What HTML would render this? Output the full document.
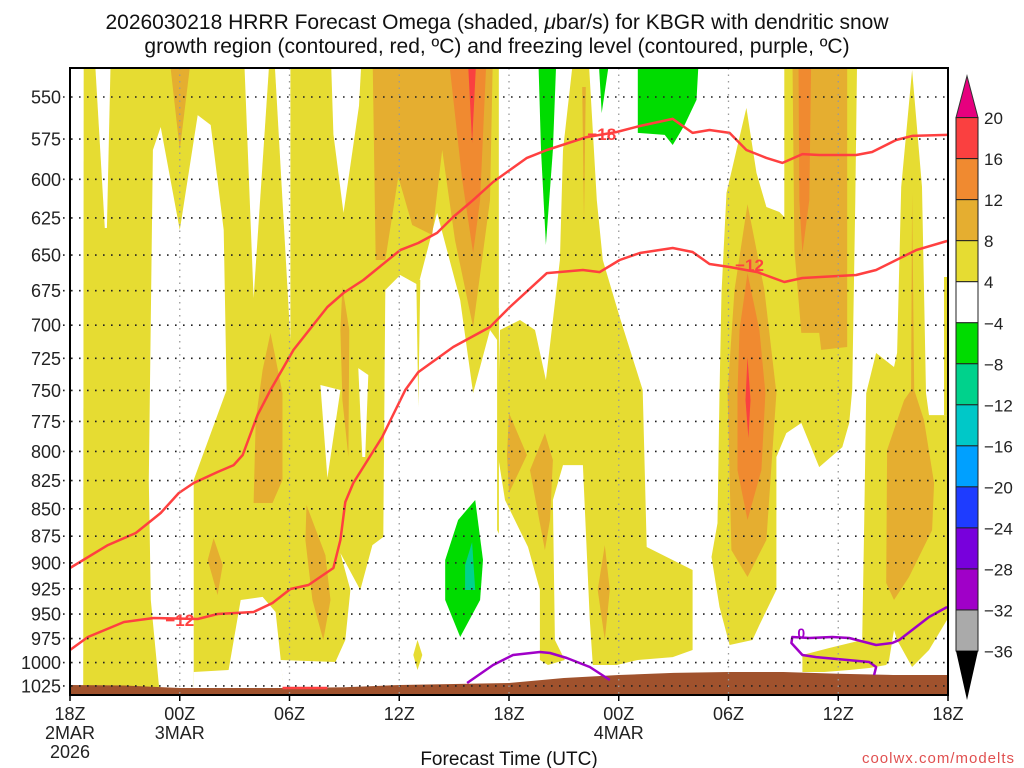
<!DOCTYPE html>
<html><head><meta charset="utf-8">
<style>
html,body{margin:0;padding:0;background:#fff;}
svg{display:block;font-family:"Liberation Sans","DejaVu Sans",sans-serif;}
</style></head>
<body>
<svg id="chart" width="1024" height="768" viewBox="0 0 1024 768" xmlns="http://www.w3.org/2000/svg">
<g font-size="21" fill="#111" text-anchor="middle">
<text x="497" y="29">2026030218 HRRR Forecast Omega (shaded, <tspan font-style="italic">μ</tspan>bar/s) for KBGR with dendritic snow</text>
<text x="497" y="53">growth region (contoured, red, ºC) and freezing level (contoured, purple, ºC)</text>
</g>
<defs><clipPath id="plotclip"><rect x="70" y="68" width="878" height="627"/></clipPath></defs>
<g id="plot" clip-path="url(#plotclip)"></g>
<g id="overlay"></g>
<g id="cbar"></g>
<text x="509" y="765" font-size="19" text-anchor="middle" fill="#111">Forecast Time (UTC)</text>
<text x="1015" y="763" font-size="15" text-anchor="end" fill="#e05050" letter-spacing="1">coolwx.com/modelts</text>
</svg>
<script>
// ---- data (hours since 18Z 2 Mar, pressure hPa) ----
const pressureTicks = [550,575,600,625,650,675,700,725,750,775,800,825,850,875,900,925,950,975,1000,1025];
const timeTicks = [0,6,12,18,24,30,36,42,48];
const timeLabels = ["18Z","00Z","06Z","12Z","18Z","00Z","06Z","12Z","18Z"];
const dateLabels = ["2MAR","3MAR","","","","4MAR","","",""];
const yearLabels = ["2026","","","","","","","",""];
const cbarLevels = [20,16,12,8,4,-4,-8,-12,-16,-20,-24,-28,-32,-36];
const cbarColors = ["#fa4040","#f08a30","#e5ae30","#e6dc32","#ffffff","#00dc00","#00d28c","#00c8c8","#00a0ff","#1e3cff","#7800dc","#a000c8","#aaaaaa"];

// surface (terrain) pressure
const terrainHours = [0,3,6,9,12,15,18,21,24,27,30,33,36,39,42,45,48];
const terrainPres = [1024,1024.5,1027.3,1027.3,1027.3,1026.5,1024,1022.9,1021.9,1016.5,1013.2,1011,1010,1010,1012,1013.2,1013.2];

// -12/-18 C contours (red)
const redLowerHours = [0,0.98,2.95,4.58,6.98,8.07,10.04,11.07,12.05,13.04,14.4,14.78,15.05,15.49,17.07,18.33,19.04,20.95,22.96,24.05,26.07,28.04,28.96,30.05,31.15,32.95,34.04,34.96,36.06,37.58,39.05,40.04,42.98,44.07,46.26,47.95];
const redLowerPres = [986.8,973.3,958.0,954.0,955.0,950.0,948.0,939.0,925.2,921.3,904.9,878.5,843.9,827.1,787.9,749.7,735.6,716.4,701.4,686.7,662.5,660.4,661.8,653.4,648.6,645.2,647.9,656.2,658.3,661.8,668.8,666.0,663.9,660.4,646.6,640.4];
const redUpperHours = [0,2.07,3.6,4.96,5.95,6.76,8.07,8.95,9.44,10.25,10.96,12.22,14.07,14.95,16.04,18.05,19.04,20.07,20.95,22.04,23.13,24.05,24.98,26.07,28.25,29.89,31.15,32.95,34.04,34.96,36.06,36.98,38.07,38.95,40.04,40.96,42.98,43.85,45.16,46.04,47.95];
const redUpperPres = [904.9,883.2,872.0,853.8,835.9,827.1,817.6,811.6,803.0,769.8,749.7,718.6,686.7,676.6,667.4,646.6,641.8,635.0,624.4,613.3,601.7,594.1,586.6,581.7,573.8,570.7,567.1,562.9,571.3,569.5,571.3,581.7,586.6,589.7,584.2,584.8,584.8,582.9,575.6,573.1,572.5];
const redShortHours = [11.62,14.07];
const redShortPres = [1027.3,1027.3];
const redLabelText = ["-12","-18","-12"];
const redLabelHours = [6.0,29.07,37.15];
const redLabelPres = [956,572,656.9];

// freezing level (purple)
const purpleAHours = [21.71,23.13,24.22,25.69,26.24,27.16,28.42,29.51];
const purpleAPres = [1021.9,1002.6,992.0,988.9,989.9,995.2,1004.7,1018.6];
const purpleBHours = [47.95,46.96,45.33,44.95,44.07,42.6,41.67,40.42,39.49,39.44,40.04,40.8,43.69,44.07,43.96];
const purpleBPres = [943.0,953.0,976.4,979.5,981.6,974.4,973.3,974.4,973.3,979.5,992.0,994.2,999.4,1004.7,1013.2];

// shaded omega regions: [hour, pressure] vertex lists per level
const yellowBase = [[0,520],[23.45,520],[23.45,1045],[0,1045]];
const whiteHoles = [
 [[0,520],[0.75,520],[0.72,1045],[0,1045]],
 [[1.31,520],[2.24,520],[2.02,631.7],[1.9,631.7]],
 [[4.53,581.7],[4.96,567.7],[6.0,633.0],[6.98,560.6],[7.69,566.5],[8.4,633.0],[8.56,749.7],[6.76,824.5],[6.76,1045],[4.96,1045],[4.42,936.0],[4.31,824.5]],
 [[6.76,1045],[6.76,1010.0],[8.67,1007.9],[9.33,936.0],[10.53,933.0],[11.24,948.0],[11.78,1045]],
 [[9.49,520],[10.96,520],[10.04,680.2]],
 [[11.13,520],[12.05,520],[12.05,711.1]],
 [[14.24,520],[15.98,520],[15.8,555.2],[14.95,621.7],[14.4,572.0]],
 [[17.24,674.5],[18.05,663.9],[19.04,670.9],[20.07,621.7],[21.33,681.7],[22.04,752.1],[22.96,703.6],[23.35,711.1],[23.35,869.3],[24.16,897.3],[24.87,1045],[11.78,1045],[11.51,997.3],[14.51,999.4],[15.05,976.4],[15.33,926.2],[14.78,890.7],[15.87,926.2],[16.53,883.2],[17.13,875.7]],
 [[13.69,745.7],[14.78,749.7],[14.07,822.8]],
 [[15.76,732.5],[16.31,737.9],[16.14,804.7],[15.98,804.7]],
 [[23.45,520],[23.45,687.4],[24.6,696.2],[25.42,703.6],[26.02,741.8],[26.78,653.4],[26.95,581.7],[27.6,520]]
];
const yellowRegions = [
 [[18.93,667.4],[19.15,667.4],[19.04,763.3]],
 [[19.0,976.4],[19.26,992.0],[19.0,1007.9],[18.77,992.0]],
 [[27.6,520],[28.31,520],[28.8,613.3],[29.13,653.4],[30.05,694.0],[31.31,749.7],[31.53,885.0],[34.04,906.8],[34.04,986.8],[32.95,994.2],[31.04,997.3],[29.89,1002.6],[28.58,1002.6],[28.42,956.0],[28.04,811.6],[26.95,811.6],[26.4,842.1],[26.51,976.4],[27.05,997.3],[26.13,1002.6],[25.69,997.3],[25.69,926.2],[25.04,885.0],[23.78,842.1],[23.35,798.8],[23.51,703.6],[24.6,696.2],[25.42,703.6],[26.02,741.8],[26.78,653.4],[26.95,581.7]],
 [[36.98,556.4],[37.53,596.0],[38.07,617.8],[38.78,621.1],[39.05,624.4],[39.05,520],[43.04,520],[42.93,613.3],[42.76,749.7],[42.6,776.3],[42.22,796.3],[40.96,813.3],[39.98,776.3],[39.16,784.6],[38.62,804.7],[38.62,926.2],[37.69,961.1],[37.31,976.4],[36.06,981.6],[35.51,943.0],[35.07,894.4],[35.4,862.9],[35.51,752.1],[35.62,676.6],[35.89,608.7],[36.44,581.7]],
 [[46.04,534.5],[46.58,604.9],[46.8,752.1],[46.96,769.8],[48.5,769.8],[48.5,939.0],[46.96,986.8],[46.04,1004.7],[45.22,976.4],[45.05,966.2],[44.78,997.3],[44.62,1002.6],[43.69,1005.8],[42.6,1007.9],[41.24,1010.0],[40.04,1010.0],[40.04,992.0],[41.51,984.7],[43.31,976.4],[43.42,862.9],[43.53,752.1],[44.07,720.9],[45.05,731.7],[45.22,720.9],[45.44,604.9]],
 [[47.78,665.3],[48.5,665.3],[48.5,769.8],[47.78,769.8]]
];
const orangeRegions = [
 [[5.35,520],[6.71,520],[6.0,581.7]],
 [[16.53,520],[23.13,520],[22.96,613.3],[22.04,701.4],[21.05,639.8],[20.35,581.7],[19.8,636.4],[18.71,629.7],[17.95,598.5],[17.24,653.4],[16.71,653.4]],
 [[10.96,705.8],[11.62,752.1],[11.62,824.5],[11.07,844.8],[10.04,844.8],[10.15,773.9],[10.53,734.0]],
 [[7.85,876.7],[8.35,902.0],[8.07,931.1],[7.53,897.3]],
 [[12.93,846.6],[13.96,892.6],[14.24,936.0],[13.85,976.4],[13.25,936.0],[12.87,878.5]],
 [[14.89,672.3],[15.27,703.6],[15.22,804.7],[14.89,757.7],[14.78,703.6]],
 [[24.0,768.1],[24.98,803.0],[24.0,835.9],[23.89,803.0]],
 [[25.96,784.6],[26.4,807.3],[26.24,860.1],[25.96,887.9],[25.15,815.9]],
 [[29.24,883.2],[29.51,926.2],[29.24,976.4],[28.85,926.2]],
 [[28.0,544.2],[28.2,544.2],[28.1,628.4]],
 [[37.04,615.9],[37.96,674.5],[38.62,752.1],[38.07,878.5],[37.04,913.5],[36.16,887.9],[35.95,752.1],[36.33,674.5]],
 [[39.49,520],[42.49,520],[42.49,716.4],[41.07,718.6],[40.96,705.8],[39.98,705.8],[39.6,646.6]],
 [[46.04,608.7],[46.15,749.7],[46.69,773.9],[47.24,827.1],[47.13,869.3],[45.87,913.5],[45.05,936.0],[44.62,919.3],[44.67,798.8],[45.6,757.7],[45.98,749.7]]
];
const darkOrangeRegions = [
 [[20.62,520],[22.8,520],[22.42,613.3],[22.04,648.6],[21.44,600.4]],
 [[37.04,662.5],[37.69,703.6],[38.02,752.1],[37.8,815.9],[37.04,860.1],[36.49,815.9],[36.49,752.1],[36.6,703.6]],
 [[39.82,520],[40.53,520],[40.42,613.3],[40.04,648.6],[39.87,613.3]]
];
const redRegions = [
 [[21.71,520],[22.25,520],[21.98,577.4]],
 [[37.04,724.0],[37.2,757.7],[37.09,788.7],[36.93,757.7]]
];
const greenRegions = [
 [[22.15,842.1],[22.58,897.3],[22.42,936.0],[21.33,973.3],[20.51,936.0],[20.51,897.3],[21.22,860.1]],
 [[25.58,520],[26.62,520],[26.4,581.7],[26.02,643.1],[25.75,581.7]],
 [[28.85,520],[29.62,520],[29.07,559.4]],
 [[31.04,520],[34.42,520],[34.25,551.7],[33.6,566.5],[32.95,578.6],[32.51,572.5],[31.04,571.3]]
];
const tealRegions = [
 [[21.98,880.4],[22.15,926.2],[21.6,926.2],[21.6,902.0]]
];

// ---- axis functions (log-pressure vertical axis) ----
const X0 = 70, X1 = 948, Y550 = 97, LOGSCALE = 946;
function xOf(h){ return X0 + (h/48)*(X1-X0); }
function yOf(p){ return Y550 + LOGSCALE*Math.log(p/550); }
const NS = "http://www.w3.org/2000/svg";
function mk(tag, attrs, parent){
  const e = document.createElementNS(NS, tag);
  for (const k in attrs) e.setAttribute(k, attrs[k]);
  parent.appendChild(e);
  return e;
}
const plot = document.getElementById('plot');
const overlay = document.getElementById('overlay');
const cbar = document.getElementById('cbar');
function ptsOf(poly){ return poly.map(v => xOf(v[0]).toFixed(1)+','+yOf(v[1]).toFixed(1)).join(' '); }
function drawRegions(list, color, name){
  list.forEach((poly, i) => {
    const e = mk('polygon', {points: ptsOf(poly), fill: color}, plot);
    
    
  });
}
drawRegions([yellowBase], '#e6dc32', 'omega-4-8-base');
drawRegions(whiteHoles, '#ffffff', 'omega-neutral-region');
drawRegions(yellowRegions, '#e6dc32', 'omega-4-8-region');
drawRegions(orangeRegions, '#e5ae30', 'omega-8-12-region');
drawRegions(darkOrangeRegions, '#f08a30', 'omega-12-16-region');
drawRegions(redRegions, '#fa4040', 'omega-16-20-region');
drawRegions(greenRegions, '#00dc00', 'omega-neg4-neg8-region');
drawRegions(tealRegions, '#00d28c', 'omega-neg8-neg12-region');

// grid
pressureTicks.forEach(p => {
  const g = mk('line', {x1: 63, x2: X1, y1: yOf(p), y2: yOf(p), stroke: '#222', 'stroke-width': 1.6, 'stroke-dasharray': '1.6 6.4'}, overlay);
  
  
  const t = mk('text', {x: 61, y: yOf(p)+6.5, 'font-size': 18, 'text-anchor': 'end', fill: '#222'}, overlay);
  t.textContent = p;
  
  
});
timeTicks.forEach((h, i) => {
  if (i > 0 && i < timeTicks.length-1) {
    const g = mk('line', {x1: xOf(h), x2: xOf(h), y1: 68, y2: 695, stroke: '#999', 'stroke-width': 1.3, 'stroke-dasharray': '1.5 5'}, overlay);
    
    
  }
  const tk = mk('line', {x1: xOf(h), x2: xOf(h), y1: 695, y2: 701, stroke: '#000', 'stroke-width': 1.5}, overlay);
  
  
  const rows = [timeLabels[i], dateLabels[i], yearLabels[i]];
  rows.forEach((s, r) => {
    if (!s) return;
    const t = mk('text', {x: xOf(h), y: 720 + r*19, 'font-size': 18, 'text-anchor': 'middle', fill: '#222'}, overlay);
    t.textContent = s;
    
    
  });
});

// terrain
(function(){
  let d = 'M' + xOf(terrainHours[0]) + ',' + yOf(1045).toFixed(1);
  terrainHours.forEach((h, i) => { d += ' L' + xOf(h).toFixed(1) + ',' + yOf(terrainPres[i]).toFixed(1); });
  d += ' L' + xOf(terrainHours[terrainHours.length-1]) + ',' + yOf(1045).toFixed(1) + ' Z';
  const e = mk('path', {d: d, fill: '#a0522d'}, plot);
  
  
})();

function drawLine(hours, pres, color, name, w){
  const pts = hours.map((h, i) => xOf(h).toFixed(1) + ',' + yOf(pres[i]).toFixed(1)).join(' ');
  const e = mk('polyline', {points: pts, fill: 'none', stroke: color, 'stroke-width': w, 'stroke-linejoin': 'round'}, plot);
  
  
}
drawLine(redLowerHours, redLowerPres, '#ff4040', 'dgz-contour-lower', 2.5);
drawLine(redUpperHours, redUpperPres, '#ff4040', 'dgz-contour-upper', 2.5);
drawLine(redShortHours, redShortPres, '#ff4040', 'dgz-contour-surface', 2.5);
drawLine(purpleAHours, purpleAPres, '#a000c8', 'freezing-level-contour-a', 2.5);
drawLine(purpleBHours, purpleBPres, '#a000c8', 'freezing-level-contour-b', 2.5);

redLabelText.forEach((s, i) => {
  const x = xOf(redLabelHours[i]), y = yOf(redLabelPres[i]);
  const t = mk('text', {x: x, y: y+6, 'font-size': 17, 'font-weight': 'bold', 'text-anchor': 'middle', fill: '#ff4040'}, plot);
  t.textContent = s.replace('-', '\u2212');
  
  
});
(function(){
  const t = mk('text', {x: xOf(39.98), y: yOf(969.2)+5, 'font-size': 14, 'font-weight': 'bold', 'text-anchor': 'middle', fill: '#a000c8'}, plot);
  t.textContent = '0';
  
  
})();

// frame
(function(){
  const f = mk('rect', {x: 70, y: 68, width: 878, height: 627, fill: 'none', stroke: '#000', 'stroke-width': 2}, overlay);
  
  
})();

// colorbar
(function(){
  const cx0 = 956, cx1 = 978, top = 117.6, step = (651-117.6)/13;
  const tri = mk('polygon', {points: cx0+','+top+' '+cx1+','+top+' '+((cx0+cx1)/2)+',76', fill: '#e6007e', stroke: '#333', 'stroke-width': 1}, cbar);
  
  
  cbarColors.forEach((c, i) => {
    const r = mk('rect', {x: cx0, y: top + i*step, width: cx1-cx0, height: step, fill: c, stroke: '#222', 'stroke-width': 1}, cbar);
    
    
  });
  const tri2 = mk('polygon', {points: cx0+','+(top+13*step)+' '+cx1+','+(top+13*step)+' '+((cx0+cx1)/2)+',700', fill: '#000'}, cbar);
  
  
  cbarLevels.forEach((v, i) => {
    const t = mk('text', {x: 984, y: top + i*step + 6.5, 'font-size': 17, fill: '#222'}, cbar);
    t.textContent = v < 0 ? '\u2212' + Math.abs(v) : String(v);
    
    
  });
})();
</script>
</body></html>
